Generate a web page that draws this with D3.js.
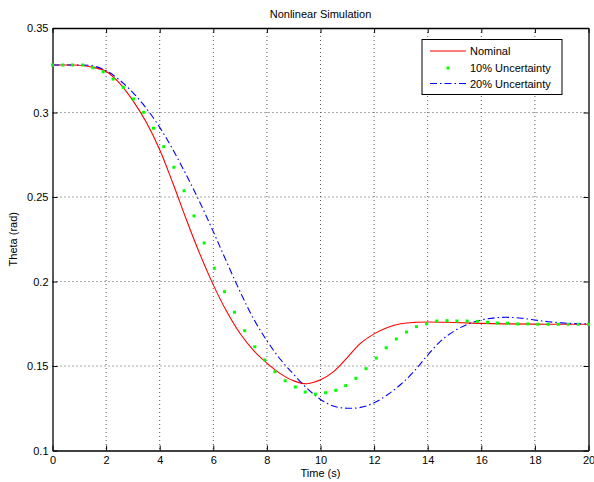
<!DOCTYPE html>
<html lang="en">
<head>
<meta charset="utf-8">
<script src="https://d3js.org/d3.v7.min.js"></script>
<style>
  body { margin: 0; background: #fff; }
  text { font-family: "Liberation Sans", Arial, Helvetica, sans-serif; font-size: 11px; fill: #000; }
</style>
</head>
<body>
<div id="chart"></div>
<script>
// x ticks / y ticks
const xTicks = [0, 2, 4, 6, 8, 10, 12, 14, 16, 18, 20];
const yTicks = [0.1, 0.15, 0.2, 0.25, 0.3, 0.35];

// Nominal (red solid)
const nomTime = [0,0.5,1,1.5,2,2.5,3,3.5,4,4.5,5,5.5,6,6.5,7,7.5,8,8.5,9,9.5,10,10.5,11,11.5,12,12.5,13,13.5,14,14.5,15,16,17,18,19,20];
const nomTheta = [0.3281,0.3281,0.3280,0.3268,0.3243,0.3174,0.3070,0.2942,0.2780,0.2578,0.2364,0.2162,0.1980,0.1822,0.1692,0.1592,0.1517,0.1455,0.1412,0.1395,0.1418,0.1468,0.1550,0.1635,0.1690,0.1728,0.1750,0.1758,0.1760,0.1759,0.1757,0.1752,0.1749,0.1748,0.1747,0.1747];

// 10% uncertainty (green dots)
const unc10Time = [0,0.38,0.75,1.13,1.51,1.89,2.26,2.64,3.02,3.40,3.77,4.15,4.53,4.91,5.28,5.66,6.04,6.42,6.79,7.17,7.55,7.92,8.30,8.68,9.06,9.43,9.81,10.19,10.57,10.94,11.32,11.70,12.08,12.45,12.83,13.21,13.58,13.96,14.34,14.72,15.09,15.47,15.85,16.23,16.60,16.98,17.36,17.74,18.11,18.49,18.87,19.25,19.62,20];
const unc10Theta = [0.3281,0.3281,0.3281,0.3281,0.3265,0.3241,0.3198,0.3149,0.3080,0.3001,0.2907,0.2798,0.2676,0.2537,0.2388,0.2228,0.2078,0.1940,0.1818,0.1709,0.1614,0.1536,0.1466,0.1413,0.1376,0.1346,0.1334,0.1342,0.1356,0.1384,0.1427,0.1484,0.1547,0.1608,0.1660,0.1701,0.1733,0.1750,0.1766,0.1768,0.1766,0.1766,0.1764,0.1759,0.1754,0.1753,0.1749,0.1749,0.1747,0.1747,0.1747,0.1747,0.1747,0.1747];

// 20% uncertainty (blue dash-dot)
const unc20Time = [0,0.5,1,1.5,2,2.5,3,3.5,4,4.5,5,5.5,6,6.5,7,7.5,8,8.5,9,9.5,10,10.5,11,11.5,12,12.5,13,13.5,14,14.5,15,15.5,16,16.5,17,17.5,18,18.5,19,19.5,20];
const unc20Theta = [0.3281,0.3281,0.3281,0.3276,0.3248,0.3192,0.3118,0.3025,0.2912,0.2778,0.2628,0.2468,0.2295,0.2115,0.1940,0.1780,0.1650,0.1540,0.1450,0.1368,0.1302,0.1262,0.1250,0.1255,0.1282,0.1330,0.1392,0.1470,0.1565,0.1650,0.1708,0.1748,0.1772,0.1785,0.1788,0.1783,0.1772,0.1762,0.1755,0.1751,0.1749];

const legendNames = ["Nominal", "10% Uncertainty", "20% Uncertainty"];

const W = 594, H = 482;
const margin = {top: 28, right: 5.5, bottom: 31.5, left: 52.5};
const width = W - margin.left - margin.right;
const height = H - margin.top - margin.bottom;

const svg = d3.select("#chart").append("svg")
  .attr("width", W)
  .attr("height", H);

const g = svg.append("g")
  .attr("transform", "translate(" + margin.left + "," + margin.top + ")");

const x = d3.scaleLinear().domain([0, 20]).range([0, width]);
const y = d3.scaleLinear().domain([0.1, 0.35]).range([height, 0]);

// grid
g.append("g").selectAll("line")
  .data(xTicks.slice(1, -1))
  .join("line")
  .attr("x1", d => x(d)).attr("x2", d => x(d))
  .attr("y1", 0).attr("y2", height)
  .attr("stroke", "#555").attr("stroke-width", 1)
  .attr("stroke-dasharray", "1,3");
g.append("g").selectAll("line")
  .data(yTicks.slice(1, -1))
  .join("line")
  .attr("x1", 0).attr("x2", width)
  .attr("y1", d => y(d)).attr("y2", d => y(d))
  .attr("stroke", "#555").attr("stroke-width", 1)
  .attr("stroke-dasharray", "1,3");

// axes (ticks inside, box on)
const fmtX = d3.format("d");
const fmtY = d => String(d);
g.append("g").attr("transform", "translate(0," + height + ")")
  .call(d3.axisBottom(x).tickValues(xTicks).tickFormat(fmtX).tickSizeInner(-5).tickSizeOuter(0).tickPadding(6));
g.append("g")
  .call(d3.axisTop(x).tickValues(xTicks).tickFormat("").tickSizeInner(-5).tickSizeOuter(0));
g.append("g")
  .call(d3.axisLeft(y).tickValues(yTicks).tickFormat(fmtY).tickSizeInner(-5).tickSizeOuter(0).tickPadding(4));
g.append("g").attr("transform", "translate(" + width + ",0)")
  .call(d3.axisRight(y).tickValues(yTicks).tickFormat("").tickSizeInner(-5).tickSizeOuter(0));
g.selectAll(".domain").attr("stroke", "#000").attr("stroke-width", 1.3);
g.selectAll(".tick line").attr("stroke", "#000");
g.selectAll(".tick text").style("font-size", "11px").attr("fill", "#000");

const line = d3.line()
  .x(d => x(d[0])).y(d => y(d[1]))
  .curve(d3.curveCatmullRom.alpha(0.5));

// nominal
g.append("path")
  .datum(d3.zip(nomTime, nomTheta))
  .attr("fill", "none")
  .attr("stroke", "#ff0000")
  .attr("stroke-width", 1.1)
  .attr("d", line);

// 20% dash-dot
g.append("path")
  .datum(d3.zip(unc20Time, unc20Theta))
  .attr("fill", "none")
  .attr("stroke", "#0000ff")
  .attr("stroke-width", 1.1)
  .attr("stroke-dasharray", "7,3,1.5,3")
  .attr("d", line);

// 10% dots
g.append("g").selectAll("rect")
  .data(d3.zip(unc10Time, unc10Theta))
  .join("rect")
  .attr("x", d => x(d[0]) - 1.5)
  .attr("y", d => y(d[1]) - 1.5)
  .attr("width", 3).attr("height", 3)
  .attr("fill", "#00ff00");

// legend
const lg = svg.append("g").attr("transform", "translate(422,39.5)");
lg.append("rect")
  .attr("width", 140).attr("height", 55)
  .attr("fill", "#fff").attr("stroke", "#000").attr("stroke-width", 1);
const rowY = [11.5, 28.5, 44];
lg.append("line").attr("x1", 8).attr("x2", 44).attr("y1", rowY[0]).attr("y2", rowY[0])
  .attr("stroke", "#ff0000").attr("stroke-width", 1.1);
lg.append("rect").attr("x", 24.5).attr("y", rowY[1] - 1.5).attr("width", 3).attr("height", 3)
  .attr("fill", "#00ff00");
lg.append("line").attr("x1", 8).attr("x2", 44).attr("y1", rowY[2]).attr("y2", rowY[2])
  .attr("stroke", "#0000ff").attr("stroke-width", 1.1).attr("stroke-dasharray", "7,3,1.5,3");
lg.selectAll("text.lab")
  .data(legendNames)
  .join("text")
  .attr("class", "lab")
  .attr("x", 48)
  .attr("y", (d, i) => rowY[i] + 4)
  .text(d => d);

// title & labels
svg.append("text")
  .attr("x", margin.left + width / 2).attr("y", 18)
  .attr("text-anchor", "middle")
  .text("Nonlinear Simulation");
svg.append("text")
  .attr("x", margin.left + width / 2).attr("y", 477)
  .attr("text-anchor", "middle")
  .text("Time (s)");
svg.append("text")
  .attr("transform", "translate(17," + (margin.top + height / 2) + ") rotate(-90)")
  .attr("text-anchor", "middle")
  .text("Theta (rad)");
</script>
</body>
</html>
